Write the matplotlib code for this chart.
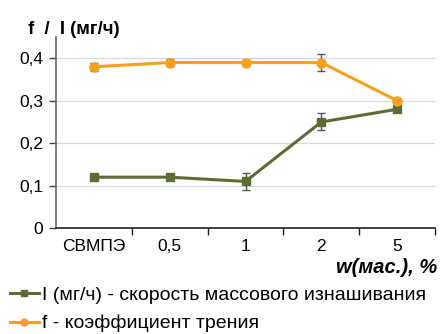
import matplotlib
matplotlib.use("Agg")
import matplotlib.pyplot as plt
from matplotlib.lines import Line2D
import numpy as np

plt.rcParams['font.family'] = ['Liberation Sans', 'DejaVu Sans']

categories = ["СВМПЭ", "0,5", "1", "2", "5"]
wear_rate = [0.12, 0.12, 0.11, 0.25, 0.28]
wear_err = [0.005, 0.005, 0.02, 0.02, 0.005]
friction = [0.38, 0.39, 0.39, 0.39, 0.30]
friction_err = [0.01, 0.008, 0.005, 0.02, 0.005]
y_ticks = [0, 0.1, 0.2, 0.3, 0.4]
y_tick_labels = ["0", "0,1", "0,2", "0,3", "0,4"]
wear_label = "I (мг/ч) - скорость массового изнашивания"
friction_label = "f - коэффициент трения"

olive = "#5f6b34"
orange = "#f6a01e"

fig = plt.figure(figsize=(4.4, 3.34), dpi=100)
ax = fig.add_axes([0.127, 0.317, 0.862, 0.572])

x = np.arange(len(categories))
ax.errorbar(x, wear_rate, yerr=wear_err, color=olive, lw=2.2, marker="s",
            markersize=5.5, ecolor="#555555", elinewidth=1, capsize=3, zorder=3)
ax.errorbar(x, friction, yerr=friction_err, color=orange, lw=2.2, marker="o",
            markersize=6.5, ecolor="#555555", elinewidth=1, capsize=3, zorder=4)

ax.set_xlim(-0.5, len(categories) - 0.5)
ax.set_ylim(0, 0.45)
ax.set_yticks(y_ticks)
ax.set_yticklabels(y_tick_labels)
ax.set_xticks(x)
ax.set_xticklabels(categories)
ax.set_xticks(np.arange(len(categories)) + 0.5, minor=True)
ax.tick_params(axis="x", which="major", length=0, pad=8, labelsize=12.5)
ax.tick_params(axis="x", which="minor", length=5, width=1, color="#222222")
ax.tick_params(axis="y", length=5, width=1, color="#444444", labelsize=12.5, pad=4)

ax.grid(axis="y", color="#d9d9d9", lw=0.9)
ax.set_axisbelow(True)
for s in ("top", "right"):
    ax.spines[s].set_visible(False)
ax.spines["left"].set_color("#666666")
ax.spines["left"].set_linewidth(1.2)
ax.spines["bottom"].set_color("#222222")
ax.spines["bottom"].set_linewidth(1.2)

fig.text(0.064, 0.913, "f  /  I (мг/ч)", fontsize=13.4, fontweight="bold", ha="left", va="center")
fig.text(0.993, 0.2, "w(мас.), %", fontsize=14.5, fontweight="bold", style="italic",
         ha="right", va="center")

handles = [
    Line2D([], [], color=olive, lw=2.2, marker="s", markersize=4),
    Line2D([], [], color=orange, lw=2.2, marker="o", markersize=5),
]
fig.legend(handles, [wear_label, friction_label], loc="lower left",
           bbox_to_anchor=(-0.004, -0.03), frameon=False, fontsize=14,
           handlelength=1.5, handletextpad=0.15, labelspacing=0.55, borderaxespad=0.2)

fig.savefig("out.png", dpi=100)
